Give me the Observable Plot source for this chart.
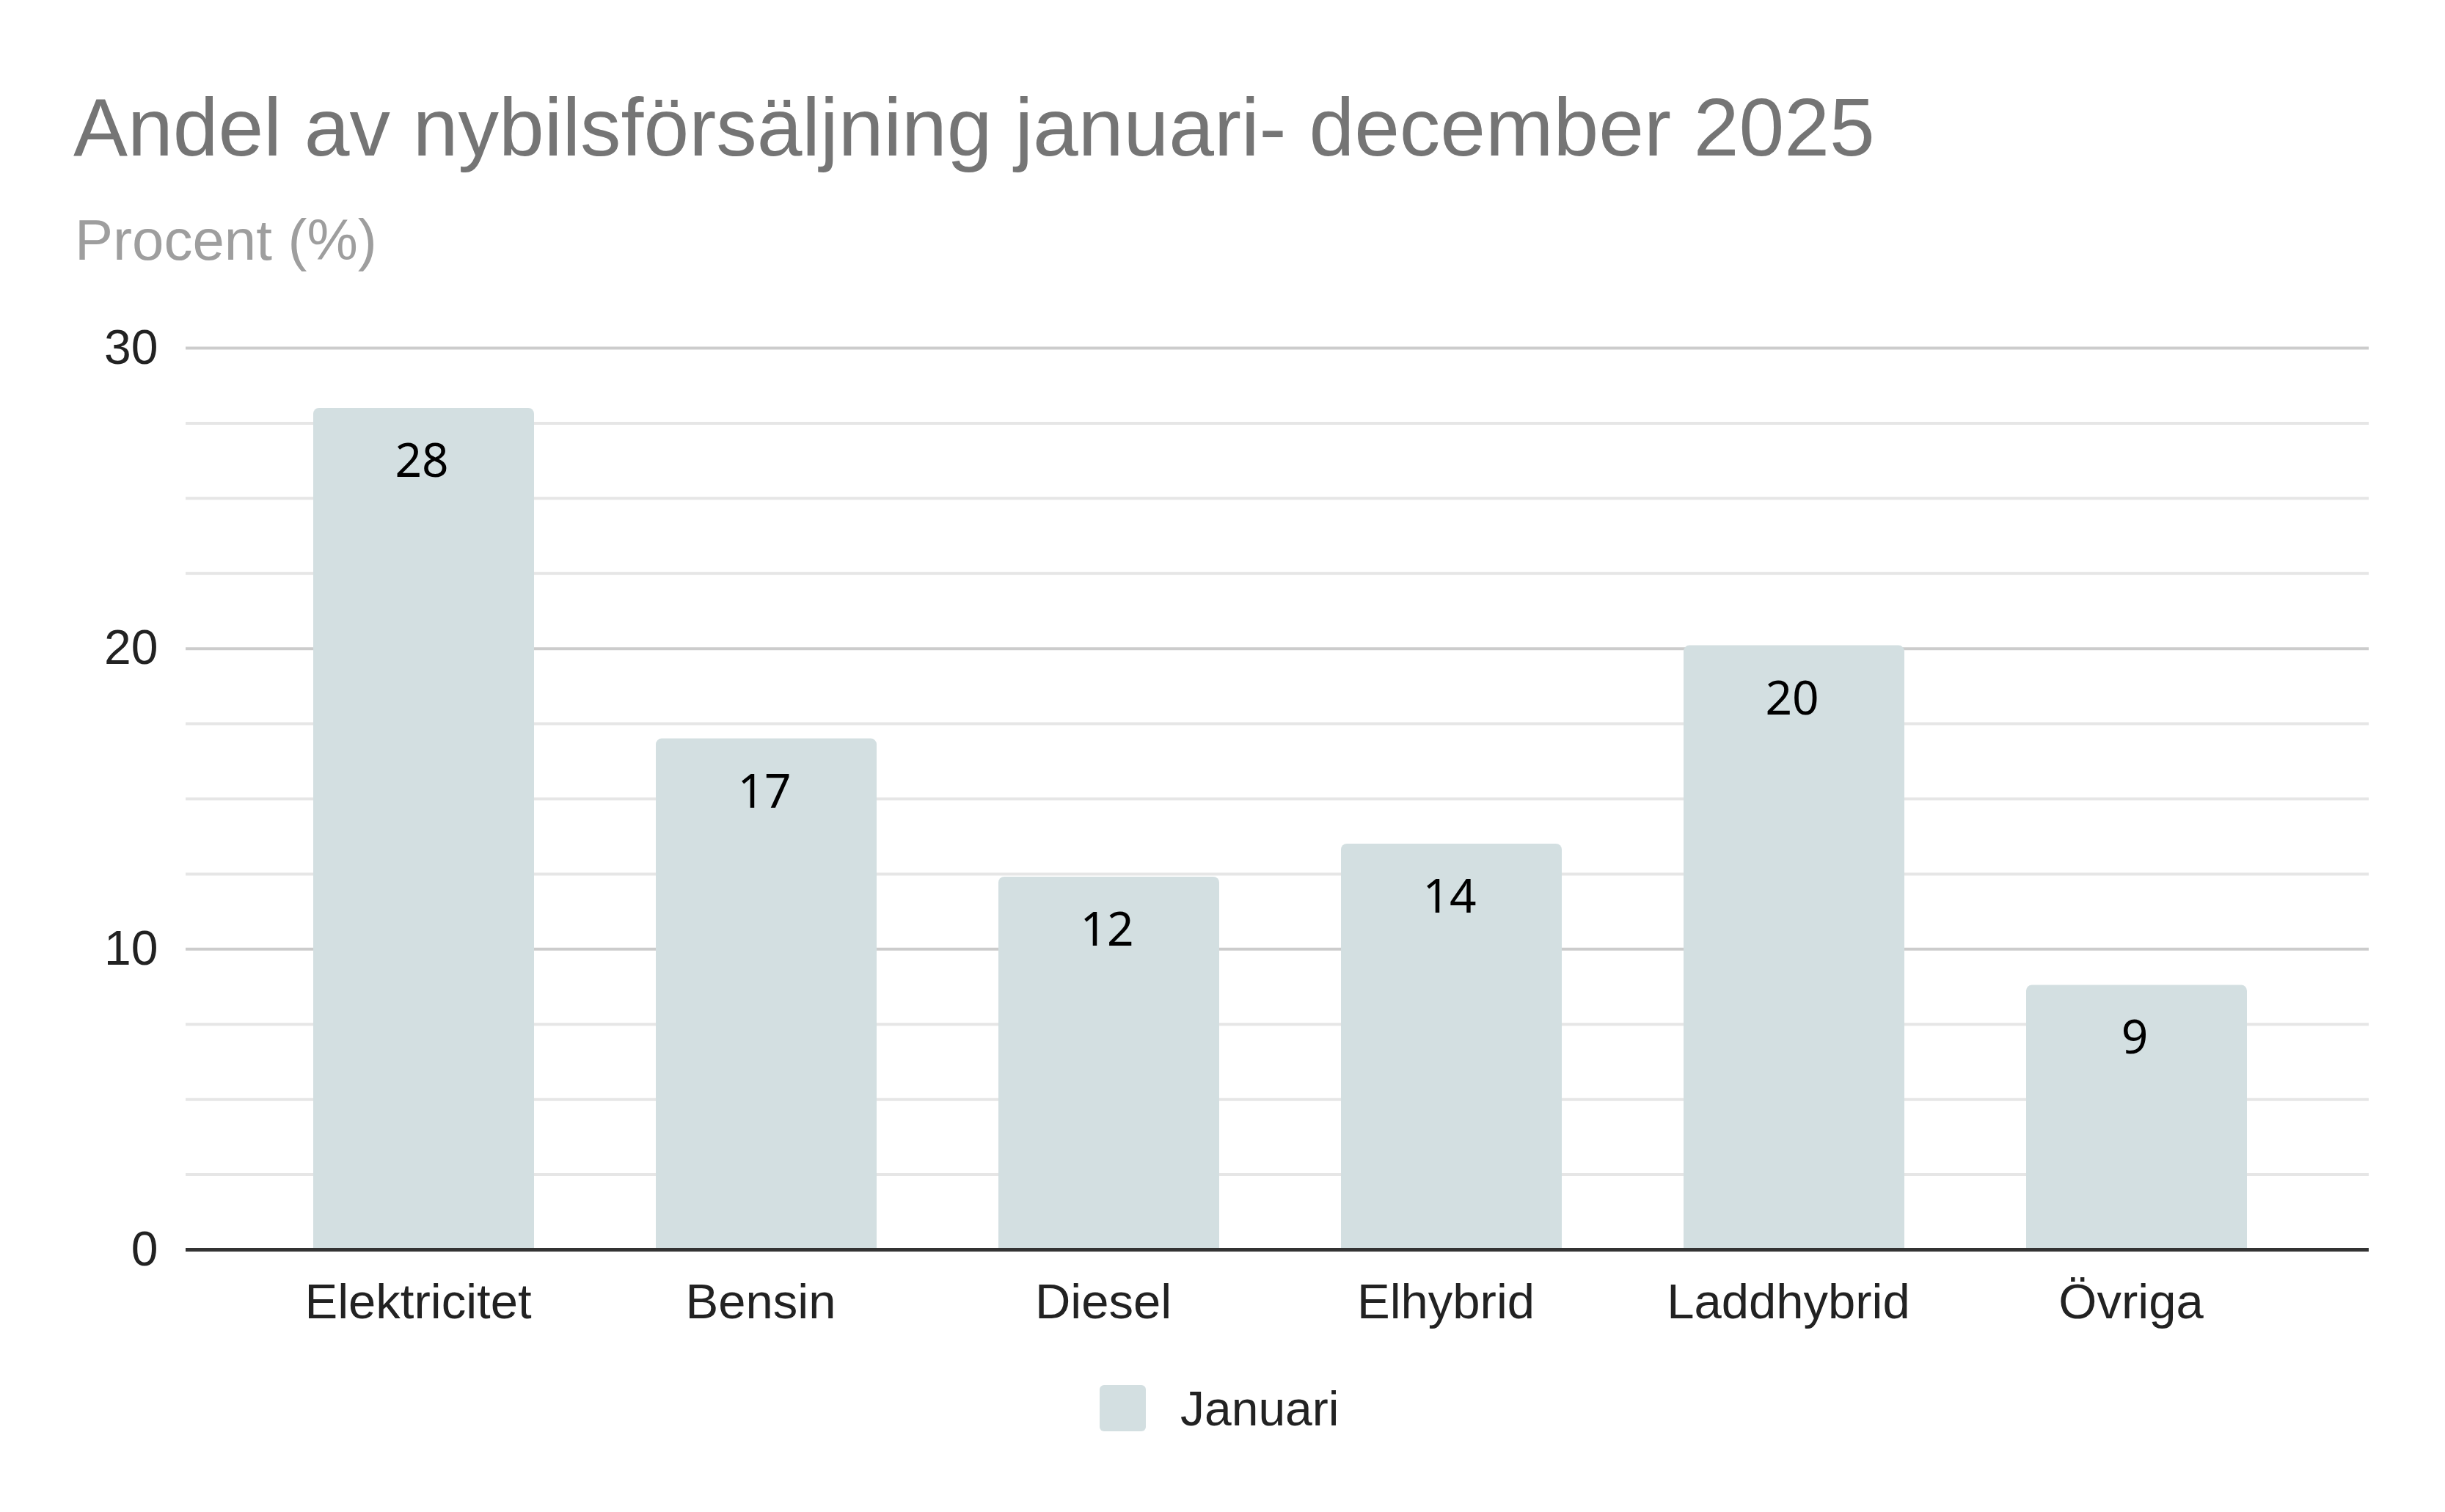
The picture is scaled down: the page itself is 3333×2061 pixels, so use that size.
<!DOCTYPE html>
<html>
<head>
<meta charset="utf-8">
<script src="https://cdn.jsdelivr.net/npm/d3@7"></script>
<script src="https://cdn.jsdelivr.net/npm/@observablehq/plot@0.6"></script>
<style>
html, body { margin: 0; padding: 0; background: #ffffff; }
#wrap { position: relative; width: 3333px; height: 2061px; overflow: hidden; font-family: "Liberation Sans", Arial, sans-serif; background: #fff; }
#title { position: absolute; left: 100px; top: 119px; font-size: 111px; line-height: 1; color: #757575; white-space: nowrap; }
#subtitle { position: absolute; left: 102px; top: 288px; font-size: 78px; line-height: 1; color: #9e9e9e; white-space: nowrap; }
#chart { position: absolute; left: 0; top: 400px; }
#swatch { position: absolute; left: 1499px; top: 1888px; width: 63px; height: 63px; border-radius: 6px; }
#legendText { position: absolute; left: 1609px; top: 1887px; font-size: 66px; line-height: 1; color: #222; white-space: nowrap; }
</style>
</head>
<body>
<div id="wrap">
  <div id="title"></div>
  <div id="subtitle"></div>
  <div id="chart"></div>
  <div id="swatch"></div>
  <div id="legendText"></div>
</div>
<script>
const titleText = "Andel av nybilsförsäljning januari- december 2025";
const subtitleText = "Procent (%)";
const categories = ["Elektricitet", "Bensin", "Diesel", "Elhybrid", "Laddhybrid", "Övriga"];
const values = [28.0, 17.0, 12.4, 13.5, 20.1, 8.8];
const seriesName = "Januari";
const majorTicks = [0, 10, 20, 30];
const minorTicks = [2.5, 5, 7.5, 12.5, 15, 17.5, 22.5, 25, 27.5];
const barColor = "#d3dfe1";

const data = categories.map((c, i) => ({category: c, value: values[i]}));

document.getElementById("title").textContent = titleText;
document.getElementById("subtitle").textContent = subtitleText;
document.getElementById("legendText").textContent = seriesName;
document.getElementById("swatch").style.background = barColor;

const chart = Plot.plot({
  width: 3333,
  height: 1440,
  marginTop: 74,
  marginBottom: 137,
  marginLeft: 253,
  marginRight: 104,
  x: {domain: categories, padding: 0.355, insetLeft: 8, label: null},
  y: {domain: [0, 30], label: null},
  style: {fontFamily: "'Liberation Sans', Arial, sans-serif", fontSize: "64px", color: "#222", background: "transparent"},
  marks: [
    Plot.ruleY(minorTicks, {stroke: "#e6e6e6", strokeWidth: 4}),
    Plot.ruleY(majorTicks.filter(d => d > 0), {stroke: "#cccccc", strokeWidth: 4}),
    Plot.barY(data, {x: "category", y: "value", fill: barColor, rx: 8, ry: 8, insetBottom: -12, clip: true}),
    Plot.ruleY([0], {stroke: "#333333", strokeWidth: 5}),
    Plot.text(data, {x: "category", y: "value", text: d => String(Math.round(d.value)), dy: 73, dx: -3, fontSize: 64, fontFamily: "'Noto Sans', sans-serif", fill: "#000"}),
    Plot.axisY({ticks: majorTicks, tickSize: 0, tickPadding: 38, fontSize: 66, label: null}),
    Plot.axisX({tickSize: 0, tickPadding: 46, fontSize: 67, dx: -8, label: null})
  ]
});
document.getElementById("chart").appendChild(chart);
</script>
</body>
</html>
